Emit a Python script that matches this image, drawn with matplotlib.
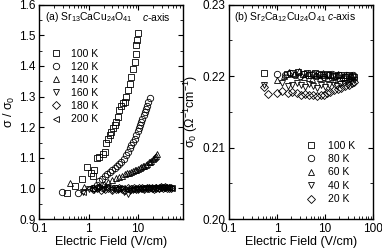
import matplotlib
matplotlib.use("Agg")
import matplotlib.pyplot as plt
from matplotlib.ticker import MultipleLocator, LogLocator, NullFormatter, FixedLocator, FixedFormatter

plt.rcParams['font.family'] = ['Liberation Sans', 'DejaVu Sans']
plt.rcParams['mathtext.fontset'] = 'custom'
plt.rcParams['mathtext.rm'] = 'Liberation Sans'
plt.rcParams['mathtext.it'] = 'Liberation Sans:italic'
plt.rcParams['mathtext.bf'] = 'Liberation Sans:bold'

# ---------------- Panel (a) data: Sr13CaCu24O41 ----------------
a_labels = ["100 K", "120 K", "140 K", "160 K", "180 K", "200 K"]
a_markers = ["s", "o", "^", "v", "D", "<"]

E100 = [0.36, 0.54, 0.73, 0.91, 1.1, 1.2, 1.3, 1.5, 1.65, 1.93, 2.1, 2.27, 2.45, 2.65, 2.85, 3.1, 3.35, 3.6, 3.9,
        4.2, 4.6, 5.0, 5.35, 5.8, 6.25, 6.8, 7.3, 7.9, 8.5, 8.9, 9.25, 9.6, 10.0]
S100 = [0.984, 1.008, 1.03, 1.07, 1.05, 1.04, 1.06, 1.10, 1.103, 1.114, 1.12, 1.147, 1.16, 1.174, 1.185, 1.196, 1.207,
        1.218, 1.235, 1.256, 1.27, 1.278, 1.283, 1.30, 1.32, 1.34, 1.365, 1.39, 1.414, 1.44, 1.468, 1.485, 1.507]

E120 = [0.29, 0.6, 1.25, 1.5, 1.65, 1.9, 2.1, 2.4, 2.7, 3.0, 3.35, 3.7, 4.1, 4.6, 5.1, 5.6, 6.25, 6.8, 7.3, 7.9, 8.6,
        9.2, 9.8, 10.4, 10.8, 11.5, 12.2, 13.0, 13.7, 14.5, 15.3, 16.2, 17.3]
S120 = [0.989, 0.986, 1.0, 1.012, 1.025, 1.032, 1.04, 1.047, 1.054, 1.06, 1.066, 1.072, 1.079, 1.087, 1.097, 1.108,
        1.12, 1.133, 1.143, 1.153, 1.163, 1.175, 1.188, 1.199, 1.207, 1.218, 1.228, 1.24, 1.25, 1.26, 1.27, 1.282, 1.294]

E140 = [0.42, 0.82, 1.3, 1.6, 2.0, 2.5, 3.0, 3.5, 4.2, 4.8, 5.4, 6.0, 6.6, 7.2, 7.8, 8.5, 9.2, 10.0, 10.8, 11.6, 12.5,
        13.4, 14.3, 15.3, 16.3, 17.4, 18.5, 19.7, 21.0, 22.3, 23.5, 24.7]
S140 = [1.019, 1.005, 1.0, 1.008, 1.015, 1.022, 1.028, 1.033, 1.038, 1.042, 1.046, 1.049, 1.052, 1.055, 1.058, 1.06,
        1.062, 1.064, 1.066, 1.069, 1.072, 1.075, 1.078, 1.081, 1.085, 1.088, 1.091, 1.095, 1.099, 1.103, 1.107, 1.111]

E160 = [0.75, 1.0, 1.3, 1.6, 2.0, 2.4, 2.9, 3.4, 4.0, 4.6, 5.3, 6.25, 7.0, 8.0, 9.0, 10.0, 11.5, 13.0, 14.5, 16.0,
        18.0, 20.0, 22.0, 24.5, 27.0, 30.0, 33.0, 36.0, 40.0, 44.0]
S160 = [0.99, 0.998, 0.995, 1.002, 0.998, 1.004, 0.996, 1.001, 0.994, 0.998, 0.99, 0.981, 0.992, 0.996, 0.998, 0.995,
        0.999, 0.997, 1.0, 0.998, 1.001, 0.999, 1.0, 1.002, 0.999, 1.001, 1.0, 1.002, 1.0, 1.001]

E180 = [1.2, 1.45, 1.75, 2.1, 2.5, 3.0, 3.5, 4.1, 4.8, 5.5, 6.3, 7.2, 8.2, 9.3, 10.5, 12.0, 13.5, 15.0, 17.0, 19.0,
        21.0, 23.5, 26.0, 29.0, 32.0, 35.0, 38.5, 42.0, 46.0]
S180 = [0.997, 1.0, 0.995, 0.998, 1.002, 0.996, 0.999, 1.003, 0.997, 0.995, 1.0, 0.998, 1.002, 0.997, 1.0, 1.001,
        0.998, 1.002, 1.0, 1.003, 0.999, 1.002, 1.001, 1.004, 1.002, 1.004, 1.003, 1.002, 1.001]

E200 = [0.75, 1.0, 1.4, 1.8, 2.3, 2.8, 3.4, 4.0, 4.8, 5.6, 6.5, 7.5, 8.6, 9.8, 11.0, 12.5, 14.0, 16.0, 18.0, 20.0,
        22.5, 25.0, 28.0, 31.0, 34.0, 38.0, 42.0, 46.0, 49.0]
S200 = [0.99, 1.0, 1.003, 0.999, 1.002, 1.0, 0.997, 1.001, 1.0, 0.998, 1.002, 0.999, 1.001, 1.003, 1.0, 1.002, 1.001,
        1.003, 1.002, 1.004, 1.003, 1.005, 1.004, 1.006, 1.005, 1.004, 1.003, 1.002, 1.0]

a_E = [E100, E120, E140, E160, E180, E200]
a_S = [S100, S120, S140, S160, S180, S200]

# ---------------- Panel (b) data: Sr2Ca12Cu24O41 ----------------
b_labels = ["100 K", "80 K", "60 K", "40 K", "20 K"]
b_markers = ["s", "o", "^", "v", "D"]

bE100 = [0.53, 1.6, 2.2, 2.8, 3.5, 4.3, 5.2, 6.3, 7.5, 9.0, 10.8, 13.0, 15.5, 18.5, 22.0, 26.0, 31.0, 36.0, 40.0]
bS100 = [0.2205, 0.2203, 0.2205, 0.2206, 0.2203, 0.2204, 0.2202, 0.2204, 0.2203, 0.2201, 0.2203, 0.2202, 0.2200,
         0.2202, 0.2201, 0.2199, 0.2201, 0.2200, 0.2199]

bE80 = [1.0, 1.5, 1.9, 2.4, 3.0, 3.7, 4.5, 5.5, 6.6, 8.0, 9.6, 11.5, 14.0, 17.0, 20.0, 24.0, 28.0, 33.0, 38.0]
bS80 = [0.2203, 0.2201, 0.2204, 0.2202, 0.2200, 0.2203, 0.2201, 0.2203, 0.2200, 0.2202, 0.2199, 0.2201, 0.2203,
        0.2200, 0.2202, 0.2198, 0.2201, 0.2199, 0.2201]

bE60 = [1.0, 1.4, 1.8, 2.3, 2.9, 3.6, 4.4, 5.3, 6.4, 7.7, 9.2, 11.0, 13.3, 16.0, 19.0, 23.0, 27.0, 32.0, 37.0]
bS60 = [0.2194, 0.2200, 0.2206, 0.2203, 0.2207, 0.2199, 0.2204, 0.2196, 0.2202, 0.2198, 0.2205, 0.2197, 0.2202,
        0.2196, 0.2203, 0.2198, 0.2201, 0.2197, 0.2200]

bE40 = [0.53, 1.3, 1.7, 2.1, 2.6, 3.2, 3.9, 4.7, 5.7, 6.9, 8.3, 10.0, 12.0, 14.5, 17.5, 21.0, 25.0, 30.0, 35.0, 40.0]
bS40 = [0.2187, 0.2190, 0.2186, 0.2188, 0.2191, 0.2187, 0.2185, 0.2189, 0.2186, 0.2184, 0.2188, 0.2185, 0.2187,
        0.2190, 0.2186, 0.2189, 0.2191, 0.2188, 0.2192, 0.2194]

bE20 = [0.53, 0.66, 1.0, 1.3, 1.7, 2.1, 2.6, 3.2, 3.9, 4.7, 5.7, 6.9, 8.3, 9.4, 11.0, 13.0, 15.5, 18.5, 22.0, 26.0,
        31.0, 36.0, 40.0]
bS20 = [0.2185, 0.21745, 0.2176, 0.2179, 0.2177, 0.2178, 0.2176, 0.2174, 0.2175, 0.2173, 0.2174, 0.2172, 0.2173,
        0.2174, 0.2176, 0.2178, 0.2180, 0.2182, 0.2184, 0.2186, 0.2188, 0.2190, 0.2192]

b_E = [bE100, bE80, bE60, bE40, bE20]
b_S = [bS100, bS80, bS60, bS40, bS20]

# ---------------- Figure ----------------
fig = plt.figure(figsize=(3.82, 2.49), dpi=100)
axa = fig.add_axes([0.103, 0.120, 0.375, 0.861])
axb = fig.add_axes([0.5995, 0.120, 0.377, 0.861])

mk = dict(linestyle="none", mfc="none", mec="black", mew=0.6)
msizes = {"s": 4.5, "o": 4.6, "^": 4.9, "v": 4.9, "D": 4.1, "<": 4.9}

for E, S, m, lab in zip(a_E, a_S, a_markers, a_labels):
    axa.plot(E, S, marker=m, ms=msizes[m], label=lab, **mk)
for E, S, m, lab in zip(b_E, b_S, b_markers, b_labels):
    axb.plot(E, S, marker=m, ms=msizes[m], label=lab, **mk)

for ax in (axa, axb):
    ax.set_xscale("log")
    ax.tick_params(which="both", direction="in", top=True, right=True, labelsize=8.5, pad=2.5)
    ax.tick_params(which="major", length=3.5, width=0.8)
    ax.tick_params(which="minor", length=2, width=0.6)
    ax.xaxis.set_minor_locator(LogLocator(base=10, subs=range(2, 10), numticks=10))
    ax.xaxis.set_minor_formatter(NullFormatter())
    for sp in ax.spines.values():
        sp.set_linewidth(1.0)
    ax.set_xlabel("Electric Field (V/cm)", fontsize=9, labelpad=1)

axa.set_xlim(0.1, 80)
axa.set_ylim(0.9, 1.6)
axa.yaxis.set_minor_locator(MultipleLocator(0.05))
axa.xaxis.set_major_locator(FixedLocator([0.1, 1, 10]))
axa.xaxis.set_major_formatter(FixedFormatter(["0.1", "1", "10"]))
axa.set_yticks([0.9, 1.0, 1.1, 1.2, 1.3, 1.4, 1.5, 1.6])
axa.set_yticklabels(["0.9", "1.0", "1.1", "1.2", "1.3", "1.4", "1.5", "1.6"])
axa.set_ylabel("σ / σ$_0$", fontsize=9, labelpad=2)

axb.set_xlim(0.1, 100)
axb.set_ylim(0.20, 0.23)
axb.xaxis.set_major_locator(FixedLocator([0.1, 1, 10, 100]))
axb.xaxis.set_major_formatter(FixedFormatter(["0.1", "1", "10", "100"]))
axb.set_yticks([0.20, 0.21, 0.22, 0.23])
axb.set_yticklabels(["0.20", "0.21", "0.22", "0.23"])
axb.yaxis.set_minor_locator(MultipleLocator(0.005))
axb.set_ylabel("σ$_0$ (Ω$^{-1}$cm$^{-1}$)", fontsize=9, labelpad=2)

axa.text(0.04, 0.945, "(a) Sr$_{13}$CaCu$_{24}$O$_{41}$", transform=axa.transAxes, fontsize=7.5, va="center", ha="left")
axa.text(0.72, 0.945, "$c$-axis", transform=axa.transAxes, fontsize=7.5, va="center", ha="left")
axb.text(0.035, 0.945, "(b) Sr$_2$Ca$_{12}$Cu$_{24}$O$_{41}$ $c$-axis", transform=axb.transAxes, fontsize=7.5,
         va="center", ha="left")

la = axa.legend(loc="upper left", bbox_to_anchor=(0.045, 0.82), frameon=False, fontsize=7.5, handlelength=1.0,
                handletextpad=0.95, labelspacing=0.3, borderpad=0.2, borderaxespad=0.3)
lb = axb.legend(loc="lower right", bbox_to_anchor=(0.91, 0.045), frameon=False, fontsize=7.5, handlelength=1.0,
                handletextpad=1.1, labelspacing=0.33, borderpad=0.2, borderaxespad=0.3)

fig.savefig("out.png", dpi=100)
